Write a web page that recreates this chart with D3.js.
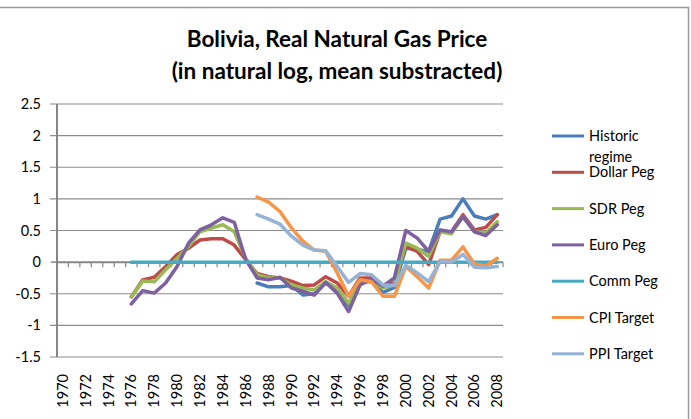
<!DOCTYPE html>
<meta charset="utf-8">
<style>
  body { margin: 0; background: #fff; }
  svg { font-family: Lato, "Open Sans", sans-serif; }
</style>
<svg width="691" height="419"></svg>
<script src="https://cdn.jsdelivr.net/npm/d3@7"></script>
<script>

// years on the category axis
var years = d3.range(1970, 2009);
var xLabels = years.filter(function(y) { return y % 2 === 0; });
var yTicks = [-1.5, -1, -0.5, 0, 0.5, 1, 1.5, 2, 2.5];

// series start in 1976 ...
var dollarPeg = [-0.55, -0.28, -0.24, -0.07, 0.12, 0.22, 0.35, 0.37, 0.37, 0.27, 0.04,
  -0.18, -0.23, -0.25, -0.30, -0.37, -0.36, -0.23, -0.33, -0.54, -0.25, -0.25, -0.37, -0.33,
  0.25, 0.17, -0.04, 0.48, 0.48, 0.75, 0.51, 0.55, 0.75];
var sdrPeg = [-0.55, -0.30, -0.31, -0.12, 0.06, 0.25, 0.48, 0.54, 0.59, 0.48, 0.06,
  -0.20, -0.25, -0.25, -0.36, -0.41, -0.44, -0.31, -0.41, -0.65, -0.31, -0.31, -0.41, -0.36,
  0.30, 0.22, 0.09, 0.48, 0.45, 0.72, 0.48, 0.46, 0.64];
var euroPeg = [-0.66, -0.45, -0.49, -0.33, -0.07, 0.30, 0.51, 0.59, 0.70, 0.63, 0.04,
  -0.25, -0.28, -0.24, -0.41, -0.46, -0.52, -0.32, -0.49, -0.78, -0.36, -0.27, -0.38, -0.25,
  0.50, 0.38, 0.17, 0.51, 0.48, 0.72, 0.48, 0.42, 0.59];
var commPeg = [0, 0, 0, 0, 0, 0, 0, 0, 0, 0, 0, 0, 0, 0, 0, 0, 0,
  0, 0, 0, 0, 0, 0, 0, 0, 0, 0, 0, 0, 0, 0, 0, 0];
// ... and these in 1987
var historic = [-0.33, -0.39, -0.39, -0.37, -0.52, -0.50, -0.33, -0.45, -0.68, -0.33, -0.30,
  -0.48, -0.40, 0.22, 0.20, 0.17, 0.68, 0.73, 1.00, 0.73, 0.68, 0.75];
var cpiTarget = [1.03, 0.95, 0.80, 0.54, 0.33, 0.19, 0.17, -0.17, -0.54, -0.28, -0.31,
  -0.54, -0.54, -0.07, -0.23, -0.41, 0.03, 0.03, 0.24, -0.03, -0.06, 0.06];
var ppiTarget = [0.75, 0.68, 0.60, 0.41, 0.27, 0.19, 0.18, -0.07, -0.32, -0.18, -0.20,
  -0.36, -0.37, -0.05, -0.17, -0.31, 0.01, 0.00, 0.12, -0.08, -0.09, -0.07];

var series = [
  { name: "Historic regime", start: 1987, values: historic, color: "#4a7ebb" },
  { name: "Dollar Peg", start: 1976, values: dollarPeg, color: "#be4b48" },
  { name: "SDR Peg", start: 1976, values: sdrPeg, color: "#98b954" },
  { name: "Euro Peg", start: 1976, values: euroPeg, color: "#7d60a0" },
  { name: "Comm Peg", start: 1976, values: commPeg, color: "#46aac5" },
  { name: "CPI Target", start: 1987, values: cpiTarget, color: "#f79646" },
  { name: "PPI Target", start: 1987, values: ppiTarget, color: "#95b3d7" }
];

var svg = d3.select("svg");

// chart area border
svg.append("rect")
    .attr("x", -2).attr("y", 7.5)
    .attr("width", 690.5).attr("height", 420)
    .attr("fill", "none").attr("stroke", "#9a9a9a").attr("stroke-width", 1.5);

var x = d3.scaleBand().domain(years).range([57, 503]);
var y = d3.scaleLinear().domain([-1.5, 2.5]).range([357, 104]);
var cx = function(yr) { return x(yr) + x.bandwidth() / 2; };

// title
svg.append("text")
    .attr("x", 337).attr("y", 47)
    .attr("text-anchor", "middle")
    .style("font-size", "22.5px").style("font-weight", "bold")
    .text("Bolivia, Real Natural Gas Price");
svg.append("text")
    .attr("x", 337).attr("y", 79)
    .attr("text-anchor", "middle")
    .style("font-size", "22.5px").style("font-weight", "bold")
    .text("(in natural log, mean substracted)");

// gridlines
svg.append("g")
  .selectAll("line")
    .data(yTicks.filter(function(d) { return d !== 0; }))
  .enter().append("line")
    .attr("x1", 50).attr("x2", 503)
    .attr("y1", function(d) { return y(d); })
    .attr("y2", function(d) { return y(d); })
    .attr("stroke", "#8c8c8c").attr("stroke-width", 1.2);

// y axis
svg.append("line")
    .attr("x1", 57).attr("x2", 57)
    .attr("y1", y(2.5)).attr("y2", y(-1.5))
    .attr("stroke", "#868686").attr("stroke-width", 2);
svg.append("g")
  .selectAll("line")
    .data([0])
  .enter().append("line")
    .attr("x1", 51).attr("x2", 57)
    .attr("y1", y(0)).attr("y2", y(0))
    .attr("stroke", "#868686").attr("stroke-width", 1.5);
svg.append("g")
  .selectAll("text")
    .data(yTicks)
  .enter().append("text")
    .attr("x", 41)
    .attr("y", function(d) { return y(d); })
    .attr("dy", "0.35em")
    .attr("text-anchor", "end")
    .style("font-size", "14.5px")
    .text(function(d) { return d; });

// category axis along zero
svg.append("line")
    .attr("x1", 57).attr("x2", 503)
    .attr("y1", y(0)).attr("y2", y(0))
    .attr("stroke", "#868686").attr("stroke-width", 2);
svg.append("g")
  .selectAll("line")
    .data(years.slice(1).concat([2009]))
  .enter().append("line")
    .attr("x1", function(d) { return d === 2009 ? 503 : x(d); })
    .attr("x2", function(d) { return d === 2009 ? 503 : x(d); })
    .attr("y1", y(0)).attr("y2", y(0) + 5)
    .attr("stroke", "#868686").attr("stroke-width", 1.2);

svg.append("g")
  .selectAll("text")
    .data(xLabels)
  .enter().append("text")
    .attr("transform", function(d) { return "translate(" + cx(d) + ",374) rotate(-90)"; })
    .attr("dy", "0.35em")
    .attr("text-anchor", "end")
    .style("font-size", "14.5px")
    .text(function(d) { return d; });

// lines
var line = d3.line()
    .x(function(d) { return cx(d.year); })
    .y(function(d) { return y(d.value); });

svg.append("g")
  .selectAll("path")
    .data(series)
  .enter().append("path")
    .attr("fill", "none")
    .attr("stroke", function(d) { return d.color; })
    .attr("stroke-width", 3.5)
    .attr("stroke-linejoin", "round")
    .attr("stroke-linecap", "round")
    .attr("d", function(s) {
      return line(s.values.map(function(v, i) { return { year: s.start + i, value: v }; }));
    });

// legend
var legend = svg.append("g")
  .selectAll("g")
    .data(series)
  .enter().append("g")
    .attr("transform", function(d, i) { return "translate(552," + (136 + i * 36.3) + ")"; });

legend.append("line")
    .attr("x1", 0).attr("x2", 32)
    .attr("stroke", function(d) { return d.color; })
    .attr("stroke-width", 3);

legend.append("text")
    .attr("x", 37)
    .style("font-size", "14.5px")
    .each(function(d) {
      var words = d.name === "Historic regime" ? ["Historic", "regime"] : [d.name];
      var t = d3.select(this);
      words.forEach(function(w, i) {
        t.append("tspan").attr("x", 37).attr("dy", i === 0 ? "0.35em" : "21px").text(w);
      });
    });

</script>
